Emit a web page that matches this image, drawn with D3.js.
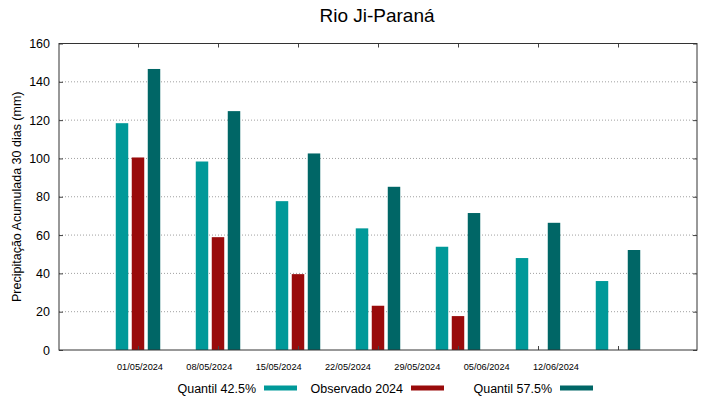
<!DOCTYPE html>
<html lang="en">
    <head>
        <meta charset="utf-8">
        <title>Rio Ji-Parana</title>
        <script type="text/javascript" src="https://d3js.org/d3.v7.min.js"></script>
        <style>
          body { margin: 0; background: #fff; }
          text { font-family: "Liberation Sans", Arial, sans-serif; fill: #000; }
        </style>
    </head>
    <body>
        <script type="text/javascript">

        var w = 719;
        var h = 399;

        // data
        var dates = ["01/05/2024", "08/05/2024", "15/05/2024", "22/05/2024",
                     "29/05/2024", "05/06/2024", "12/06/2024"];
        var seriesNames = ["Quantil 42.5%", "Observado 2024", "Quantil 57.5%"];
        var q425 = [118.4, 98.4, 77.7, 63.5, 53.9, 48.0, 36.0];
        var obs2024 = [100.5, 58.9, 39.6, 23.1, 17.7, null, null];
        var q575 = [146.7, 124.7, 102.6, 85.2, 71.5, 66.4, 52.2];
        var yTicks = [0, 20, 40, 60, 80, 100, 120, 140, 160];
        var colors = ["#009999", "#990b0b", "#006666"];

        // plot box (note: "top" is reserved on window, so use other names)
        var pLeft = 59, pRight = 697, pTop = 43.5, pBottom = 350;

        var svg = d3.select("body")
                    .append("svg")
                    .attr("width", w)
                    .attr("height", h);

        var yScale = d3.scaleLinear().domain([0, 160]).range([pBottom, pTop]);

        // group centres (bars + tick marks)
        var x0 = d3.scalePoint().domain(dates).range([138, 618]);
        // tick labels sit on their own spacing, as in the original
        var xLab = d3.scalePoint().domain(dates).range([140, 556]);
        var x1 = d3.scaleBand().domain(seriesNames).range([-24, 24])
                   .paddingInner(0.22).paddingOuter(0.11);

        // dotted grid
        svg.append("g")
           .selectAll("line")
           .data(yTicks.slice(1, -1))
           .enter()
           .append("line")
           .attr("x1", pLeft).attr("x2", pRight)
           .attr("y1", function(d) { return yScale(d); })
           .attr("y2", function(d) { return yScale(d); })
           .attr("stroke", "#a0a0a0")
           .attr("stroke-width", 1)
           .attr("stroke-dasharray", "1,2");

        // bars
        var rows = [];
        dates.forEach(function(d, i) {
          [q425[i], obs2024[i], q575[i]].forEach(function(v, j) {
            if (v != null) rows.push({date: d, series: seriesNames[j], value: v, k: j});
          });
        });

        svg.append("g")
           .selectAll("rect")
           .data(rows)
           .enter()
           .append("rect")
           .attr("x", function(d) { return x0(d.date) + x1(d.series); })
           .attr("width", x1.bandwidth())
           .attr("y", function(d) { return yScale(d.value); })
           .attr("height", function(d) { return pBottom - yScale(d.value); })
           .attr("fill", function(d) { return colors[d.k]; });

        // y axis labels, inward ticks
        var yAxis = d3.axisLeft(yScale).tickValues(yTicks).tickSize(-4).tickPadding(9);
        var gy = svg.append("g").attr("transform", "translate(" + pLeft + ",0)").call(yAxis);
        gy.select(".domain").remove();
        gy.selectAll("text").style("font-size", "12.5px").style("font-family", "Liberation Sans, Arial, sans-serif");
        gy.selectAll("line").attr("stroke", "#444");

        var yAxisR = d3.axisRight(yScale).tickValues(yTicks).tickSize(-4).tickFormat("");
        var gyr = svg.append("g").attr("transform", "translate(" + pRight + ",0)").call(yAxisR);
        gyr.select(".domain").remove();
        gyr.selectAll("line").attr("stroke", "#444");

        // x tick marks top and bottom at group centres
        var gxb = svg.append("g").attr("transform", "translate(0," + pBottom + ")")
                     .call(d3.axisBottom(x0).tickSize(-4).tickFormat(""));
        gxb.select(".domain").remove();
        gxb.selectAll("line").attr("stroke", "#444");
        var gxt = svg.append("g").attr("transform", "translate(0," + pTop + ")")
                     .call(d3.axisTop(x0).tickSize(-4).tickFormat(""));
        gxt.select(".domain").remove();
        gxt.selectAll("line").attr("stroke", "#444");

        // x labels
        svg.append("g")
           .selectAll("text")
           .data(dates)
           .enter()
           .append("text")
           .attr("x", function(d) { return xLab(d); })
           .attr("y", 370)
           .attr("text-anchor", "middle")
           .style("font-size", "9.2px")
           .text(function(d) { return d; });

        // frame
        svg.append("rect")
           .attr("x", pLeft).attr("y", pTop)
           .attr("width", pRight - pLeft).attr("height", pBottom - pTop)
           .attr("fill", "none")
           .attr("stroke", "#333")
           .attr("stroke-width", 1);

        // title
        svg.append("text")
           .attr("x", 377).attr("y", 22)
           .attr("text-anchor", "middle")
           .style("font-size", "19px")
           .text("Rio Ji-Paraná");

        // y title
        svg.append("text")
           .attr("transform", "translate(21," + ((pTop + pBottom) / 2) + ") rotate(-90)")
           .attr("text-anchor", "middle")
           .style("font-size", "12.5px")
           .text("Precipitação Acumulada 30 dias (mm)");

        // legend
        var legendX = [256, 403, 552];
        var lg = svg.append("g")
                    .selectAll("g")
                    .data(seriesNames)
                    .enter()
                    .append("g")
                    .attr("transform", function(d, i) { return "translate(" + legendX[i] + ",388)"; });
        lg.append("text")
          .attr("x", 0).attr("y", 4.5)
          .attr("text-anchor", "end")
          .style("font-size", "12.5px")
          .text(function(d) { return d; });
        lg.append("rect")
          .attr("x", 8).attr("y", -2.5)
          .attr("width", 33).attr("height", 5)
          .attr("fill", function(d, i) { return colors[i]; });

        </script>
    </body>
</html>
